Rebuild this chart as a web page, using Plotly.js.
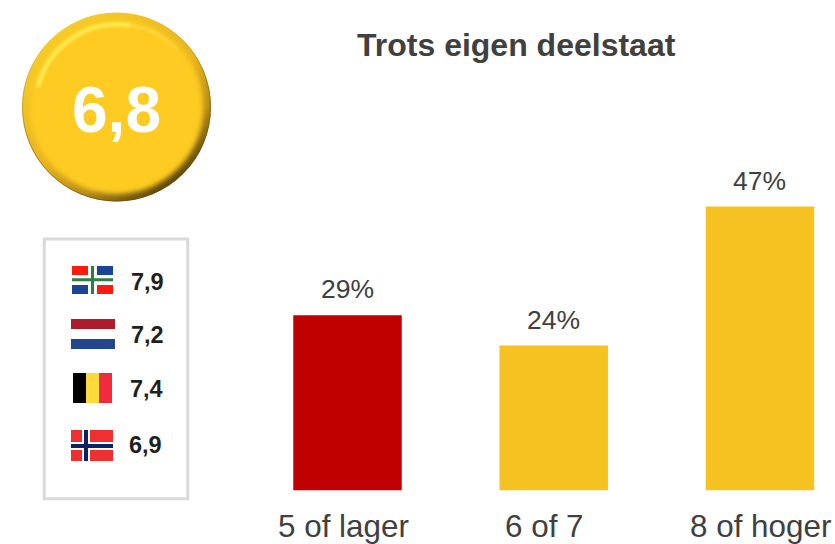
<!DOCTYPE html>
<html>
<head>
<meta charset="utf-8">
<script src="https://cdn.plot.ly/plotly-3.0.1.min.js"></script>
<style>html,body{margin:0;padding:0;background:#fff}#chart{width:835px;height:544px}</style>
</head>
<body>
<div id="chart"></div>
<script>
const categories = ["5 of lager", "6 of 7", "8 of hoger"];
const shares = [29, 24, 47];
const barColors = ["#C00000", "#F6C221", "#F6C221"];
const chartTitle = "Trots eigen deelstaat";
const overallScore = "6,8";
const regionScores = ["7,9", "7,2", "7,4", "6,9"];

const W = 835, H = 544;
const FONT = "Liberation Sans, Arial, sans-serif";
const px = x => x / W;
const py = y => 1 - y / H;
const rect = (x0, y0, x1, y1, color) => ({
  type: "rect", xref: "paper", yref: "paper",
  x0: px(x0), x1: px(x1), y0: py(y0), y1: py(y1),
  fillcolor: color, line: {width: 0}, layer: "above"
});

const shapes = [
  {type: "rect", xref: "paper", yref: "paper", x0: px(44.2), x1: px(187.8), y0: py(239), y1: py(498.8),
   fillcolor: "rgba(0,0,0,0)", line: {color: "#D9D9D9", width: 3}},
  // Groningen
  rect(72, 266, 113, 294, "#FFFFFF"),
  rect(72, 266, 88, 275, "#FF1A0E"), rect(97, 266, 113, 275, "#1A4496"),
  rect(72, 285, 88, 294, "#1A4496"), rect(97, 285, 113, 294, "#FF1A0E"),
  rect(91, 266, 94, 294, "#2E7D42"), rect(72, 278.3, 113, 281.3, "#2E7D42"),
  // Nederland
  rect(71, 319, 115, 329, "#AE1C2C"), rect(71, 329, 115, 339, "#FFFFFF"), rect(71, 339, 115, 349, "#21468B"),
  // Belgie
  rect(73, 373, 86, 403, "#000000"), rect(86, 373, 99, 403, "#FDDA3C"), rect(99, 373, 112, 403, "#EF2B3D"),
  // Noorwegen
  rect(71, 430, 113, 461, "#EF3030"),
  rect(82, 430, 90, 461, "#FFFFFF"), rect(71, 442, 113, 450, "#FFFFFF"),
  rect(84, 430, 88, 461, "#0B2265"), rect(71, 444, 113, 448, "#0B2265")
];

const ballSvg = `<svg xmlns="http://www.w3.org/2000/svg" width="200" height="200" viewBox="0 0 200 200">
<defs>
<linearGradient id="rim" x1="0.2" y1="0.1" x2="0.8" y2="0.95">
<stop offset="0" stop-color="#F6CB2A"/><stop offset="0.5" stop-color="#E8B41E"/>
<stop offset="0.75" stop-color="#B58A18"/><stop offset="1" stop-color="#4E3B0C"/>
</linearGradient>
<linearGradient id="edge" x1="0.3" y1="0" x2="0.6" y2="1">
<stop offset="0.1" stop-color="#6E5512" stop-opacity="0"/><stop offset="0.55" stop-color="#6E5512" stop-opacity="0.5"/>
<stop offset="1" stop-color="#6E5512" stop-opacity="0.7"/>
</linearGradient>
<filter id="b" x="-10%" y="-10%" width="120%" height="120%"><feGaussianBlur stdDeviation="2.4"/></filter>
<filter id="h" x="-20%" y="-20%" width="140%" height="140%"><feGaussianBlur stdDeviation="1.6"/></filter>
</defs>
<circle cx="100" cy="100" r="94.5" fill="url(#rim)"/>
<circle cx="100" cy="100" r="94" fill="none" stroke="url(#edge)" stroke-width="1"/>
<circle cx="100" cy="100" r="87" fill="#FDCB22" filter="url(#b)"/>
<path d="M 22 78 A 82 82 0 0 1 112 18" fill="none" stroke="#FFEE55" stroke-width="4" stroke-linecap="round" filter="url(#h)"/>
<path d="M 112 18 A 82 82 0 0 1 160 42" fill="none" stroke="#FFDF50" stroke-opacity="0.6" stroke-width="3" stroke-linecap="round" filter="url(#h)"/>
</svg>`;

const labelAnn = (text, x, y, size, color, bold) => ({
  text: bold ? "<b>" + text + "</b>" : text,
  xref: "paper", yref: "paper", x: px(x), y: py(y),
  xanchor: "center", yanchor: "middle", showarrow: false,
  font: {family: FONT, size: size, color: color}
});

const scoreCentres = [[147, 282], [147, 335], [146, 389], [145, 445]];
const tickShifts = [-4, -9, 0.5];
const annotations = [
  labelAnn(chartTitle, 516, 45, 32, "#404040", true),
  labelAnn(overallScore, 116.5, 110, 64, "#FFFFFF", true)
].concat(
  regionScores.map((s, i) => labelAnn(s, scoreCentres[i][0], scoreCentres[i][1], 23.5, "#1F1F1F", true)),
  categories.map((c, i) => ({
    text: c, xref: "x", yref: "y", x: c, y: 0,
    xanchor: "center", yanchor: "middle", xshift: tickShifts[i], yshift: -35.5,
    showarrow: false, font: {family: FONT, size: 31.4, color: "#404040"}
  })),
  categories.map((c, i) => ({
    text: shares[i] + "%", xref: "x", yref: "y", x: c, y: shares[i],
    xanchor: "center", yanchor: "middle", yshift: 26,
    showarrow: false, font: {family: FONT, size: 26.5, color: "#404040"}
  }))
);

const trace = {
  type: "bar",
  x: categories,
  y: shares,
  width: 0.526,
  marker: {color: barColors, line: {width: 0}},
  hoverinfo: "x+y"
};

const layout = {
  width: W, height: H,
  margin: {l: 0, r: 0, t: 0, b: 0},
  paper_bgcolor: "#FFFFFF", plot_bgcolor: "rgba(0,0,0,0)",
  showlegend: false,
  xaxis: {
    domain: [244.4 / W, 1],
    type: "category",
    categoryorder: "array", categoryarray: categories,
    range: [-0.5, 2.364],
    showgrid: false, zeroline: false, showline: false, ticks: "",
    showticklabels: false,
    automargin: false
  },
  yaxis: {
    domain: [53.5 / H, 1 - 128 / H],
    range: [0, 60],
    visible: false,
    fixedrange: true
  },
  shapes: shapes,
  annotations: annotations,
  images: [{
    source: "data:image/svg+xml;base64," + btoa(ballSvg),
    xref: "paper", yref: "paper",
    x: px(16.5), y: py(7), sizex: 200 / W, sizey: 200 / H,
    xanchor: "left", yanchor: "top", sizing: "stretch", layer: "above"
  }]
};

Plotly.newPlot("chart", [trace], layout, {displayModeBar: false, staticPlot: true});
</script>
</body>
</html>
